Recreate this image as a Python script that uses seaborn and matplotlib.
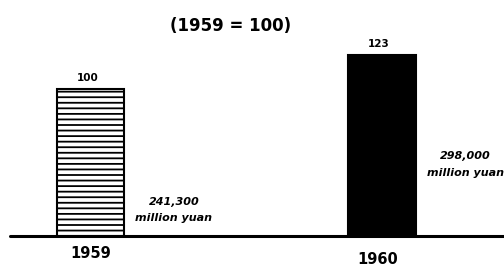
import matplotlib
matplotlib.use("Agg")
import matplotlib.pyplot as plt
import seaborn as sns
import pandas as pd

# data
years = ["1959", "1960"]
index_values = [100, 123]
amounts = ["241,300", "298,000"]
unit = "million yuan"
title = "(1959 = 100)"

df = pd.DataFrame({"year": years, "index": index_values})

sns.set_theme(style="white")
plt.rcParams["font.family"] = ["DejaVu Sans"]
plt.rcParams["text.color"] = "black"
plt.rcParams["hatch.linewidth"] = 1.3

fig = plt.figure(figsize=(5.04, 2.68), dpi=100)
ax = fig.add_axes([0, 0, 1, 1])

sns.barplot(data=df, x="year", y="index", hue="year",
            palette=["white", "black"], edgecolor="black",
            linewidth=1.5, width=0.23, legend=False, ax=ax)
ax.patches[0].set_hatch("---")

ax.set_xlim(-0.31, 1.4185)
ax.set_ylim(-21.8, 160.5)
ax.axis("off")

# baseline
ax.axhline(0, xmin=10 / 504, xmax=1, color="black", linewidth=2.2)

# index labels on top of bars
for i, v in enumerate(index_values):
    ax.text(i - 0.01, v + 4, str(v), ha="center", va="bottom",
            fontsize=7.5, fontweight="bold", color="black")

# year labels under bars
ax.text(0.0, -12.2, years[0], ha="center", va="center",
        fontsize=10.5, fontweight="bold", color="black")
ax.text(0.985, -16.3, years[1], ha="center", va="center",
        fontsize=10.5, fontweight="bold", color="black")

# amount labels to the right of bars
ax.text(0.286, 17.7, amounts[0] + "\n" + unit, ha="center", va="center",
        fontsize=8, fontweight="bold", style="italic", linespacing=1.85,
        color="black")
ax.text(1.285, 48.6, amounts[1] + "\n" + unit, ha="center", va="center",
        fontsize=8, fontweight="bold", style="italic", linespacing=1.85,
        color="black")

fig.text(231 / 504, 1 - 26 / 268, title, ha="center", va="center",
         fontsize=12, fontweight="bold", color="black")

fig.savefig("out.png", dpi=100)
